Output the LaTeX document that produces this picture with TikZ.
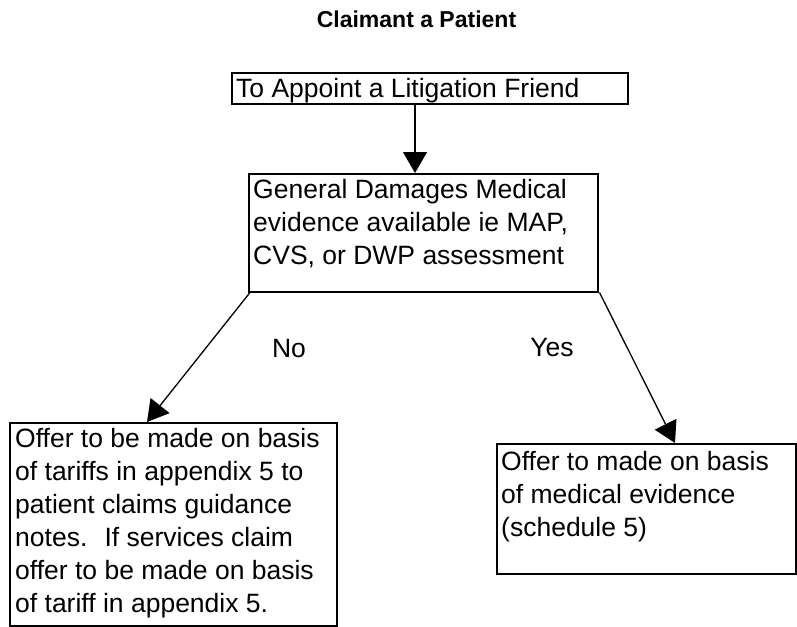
\documentclass[tikz,border=0pt]{standalone}
\usepackage{fontspec}
\setmainfont{Liberation Sans}
\usetikzlibrary{arrows.meta,calc}
\tikzset{
  box/.style={draw, line width=1.5pt, inner sep=0pt, anchor=north west},
  txt/.style={inner sep=0pt, anchor=base west},
  arr/.style={line width=1.3pt, -{Triangle[length=21pt,width=24pt]}},
  lbl/.style={inner sep=0pt, anchor=base, font=\fontsize{26.5}{33}\selectfont},
}
\newcommand{\boxtext}[2]{\parbox[t]{#1}{\fontsize{26.5}{33}\selectfont\raggedright #2}}
\begin{document}
\begin{tikzpicture}[x=1pt,y=-1pt]
\useasboundingbox (0,0) rectangle (797,626);
\node[inner sep=0pt, anchor=base, font=\bfseries\fontsize{23}{28}\selectfont] (title) at (416.5,28) {Claimant a Patient};

\node[box, minimum width=396pt, minimum height=31pt] (top) at (231,72) {};
\node[box, minimum width=349pt, minimum height=118pt] (mid) at (248,173) {};
\node[box, minimum width=327pt, minimum height=203pt] (left) at (9,422) {};
\node[box, minimum width=299pt, minimum height=130pt] (right) at (496,443) {};

\node[txt] (ttop) at (236,97) {\fontsize{26.5}{33}\selectfont To Appoint a Litigation Friend};
\node[txt] (tmid) at (253,198) {\boxtext{340pt}{General Damages Medical\\evidence available ie MAP,\\CVS, or DWP assessment}};
\node[txt] (tleft) at (15,447) {\boxtext{320pt}{Offer to be made on basis\\of tariffs in appendix 5 to\\patient claims guidance\\notes.~ If services claim\\offer to be made on basis\\of tariff in appendix 5.}};
\node[txt] (tright) at (501,470) {\boxtext{290pt}{Offer to made on basis\\of medical evidence\\(schedule 5)}};

\draw[arr] ([xshift=184pt]top.south west) -- ([xshift=167pt]mid.north west);
\draw[arr] ([xshift=2pt]mid.south west) -- ([xshift=138pt]left.north west);
\draw[arr] ([xshift=1pt]mid.south east) -- ([xshift=179pt]right.north west);

\node[lbl] (no) at (289,357) {No};
\node[lbl] (yes) at (552,356) {Yes};
\end{tikzpicture}
\end{document}
